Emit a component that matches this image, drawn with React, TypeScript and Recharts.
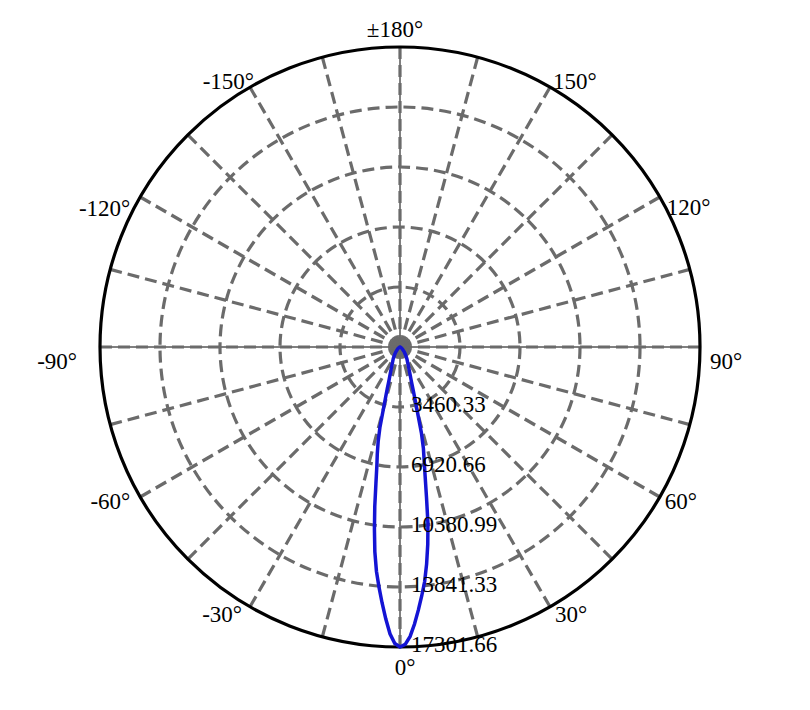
import { RadarChart, Radar, PolarGrid, PolarAngleAxis, PolarRadiusAxis } from 'recharts'

// luminous intensity, cd — C0 half (right) and C180 half (left)
const MAX_INTENSITY = 17301.66
const RADIUS_TICKS = [3460.33, 6920.66, 10380.99, 13841.33, 17301.66]
const ANGLE_TICKS = [-150, -120, -90, -60, -30, 0, 30, 60, 90, 120, 150, 180]
const SPOKES = [
  -180, -165, -150, -135, -120, -105, -90, -75, -60, -45, -30, -15,
  0, 15, 30, 45, 60, 75, 90, 105, 120, 135, 150, 165,
]

const HALF_ANGLES = [
  0, 1, 2, 3, 4, 5, 6, 7, 8, 9, 10, 11, 12, 13, 14, 15, 16, 17, 18, 19, 20,
  22, 25, 30, 35, 40, 50, 60, 70, 80, 90, 120, 150, 180,
]
const RIGHT_VALUES = [
  17301.66, 17150, 16700, 16000, 15200, 14400, 13600, 12600, 11500, 10300, 8800,
  7600, 6700, 6000, 5100, 3900, 3150, 2600, 2200, 1920, 1700,
  1400, 1100, 800, 560, 390, 180, 80, 30, 10, 0, 0, 0, 0,
]
const LEFT_VALUES = [
  17301.66, 17100, 16550, 15700, 14800, 13900, 13000, 11900, 10600, 9300, 8000,
  7000, 6300, 5600, 4800, 3700, 3000, 2500, 2100, 1850, 1650,
  1350, 1050, 780, 540, 380, 170, 80, 30, 10, 0, 0, 0, 0,
]

const data = [
  ...HALF_ANGLES.map((a, i) => ({ angle: -a, value: LEFT_VALUES[i] })).reverse(),
  ...HALF_ANGLES.map((a, i) => ({ angle: a, value: RIGHT_VALUES[i] })).slice(1),
]

const OUTER_R = 300
const FONT = '"Liberation Serif", "Times New Roman", serif'

// photometric angle (0 = down, 90 = right) -> recharts angle
const toChartAngle = (a: number) => a - 90
const toPixelRadius = (v: number) => (v / MAX_INTENSITY) * OUTER_R

// label nudges from the tick point, by angle
const LABEL_NUDGE: Record<number, [number, number]> = {
  [-150]: [8, 9],
  [-120]: [-3, 23],
  [-90]: [-15, 22],
  [-60]: [-3, 8],
  [-30]: [-4, 8],
  0: [5, 20],
  30: [1, 8],
  60: [-2, 8],
  90: [2, 22],
  120: [0, 22],
  150: [-1, 9],
  180: [-5, -2],
}

function AngleTick(props: any) {
  const { x, y, payload } = props
  const v = Number(payload.value)
  const [dx, dy] = LABEL_NUDGE[v] ?? [0, 0]
  const anchor = v === 0 || v === 180 ? 'middle' : v > 0 ? 'start' : 'end'
  return (
    <text x={x + dx} y={y + dy} textAnchor={anchor} fontFamily={FONT} fontSize={23} fill="#000">
      {v === 180 ? '±180°' : `${v}°`}
    </text>
  )
}

function RadiusTick(props: any) {
  const { x, y, payload } = props
  return (
    <text x={x + 11} y={y + 5} textAnchor="start" fontFamily={FONT} fontSize={23} fill="#000">
      {payload.value}
    </text>
  )
}

export default function App() {
  return (
    <div style={{ position: 'absolute', left: 0, top: 0, width: 810, height: 710, background: '#fff' }}>
      <RadarChart
        width={810}
        height={710}
        data={data}
        cx={400}
        cy={347}
        outerRadius={OUTER_R}
        startAngle={-270}
        endAngle={90}
        margin={{ top: 0, right: 0, bottom: 0, left: 0 }}
      >
        <PolarGrid
          gridType="circle"
          polarAngles={[0, 90, 180, 270]}
          polarRadius={[]}
          stroke="#000"
          strokeWidth={1}
        />
        <PolarGrid
          gridType="circle"
          polarAngles={SPOKES.map(toChartAngle)}
          polarRadius={RADIUS_TICKS.slice(0, -1).map(toPixelRadius)}
          stroke="#6b6b6b"
          strokeWidth={3.2}
          strokeDasharray="12 6"
        />
        <PolarGrid
          gridType="circle"
          radialLines={false}
          polarRadius={[toPixelRadius(MAX_INTENSITY)]}
          stroke="#000"
          strokeWidth={3.2}
        />
        <PolarAngleAxis
          type="number"
          dataKey="angle"
          domain={[-180, 180]}
          ticks={ANGLE_TICKS}
          tick={AngleTick}
          tickLine={false}
          axisLine={false}
        />
        <PolarRadiusAxis
          type="number"
          angle={-90}
          domain={[0, MAX_INTENSITY]}
          ticks={RADIUS_TICKS}
          tick={RadiusTick}
          tickLine={false}
          axisLine={false}
        />
        <Radar
          dataKey="value"
          stroke="#1414d4"
          strokeWidth={3.5}
          fill="none"
          fillOpacity={0}
          dot={false}
          isAnimationActive={false}
        />
      </RadarChart>
    </div>
  )
}
